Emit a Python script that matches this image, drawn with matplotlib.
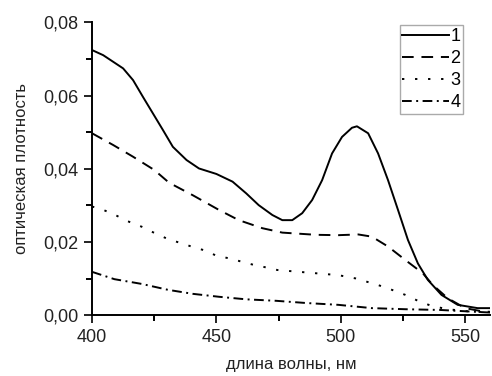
import numpy as np
import matplotlib.pyplot as plt
from matplotlib.ticker import MultipleLocator, FuncFormatter

plt.rcParams['font.family'] = ['Liberation Sans', 'DejaVu Sans']

# curve 1 (solid)
x1 = [400, 404.5, 408.5, 412.5, 416.5, 420.5, 424.5, 428.5, 432.5, 438, 443, 450,
      456.5, 462, 467, 472.5, 476.5, 480.5, 484.5, 488.5, 492.5, 496.5, 500.5, 504.5,
      506.5, 511, 515, 519, 523, 527, 531, 535, 540.5, 547, 555, 560]
y1 = [0.0724, 0.0710, 0.0692, 0.0674, 0.0642, 0.0596, 0.0551, 0.0506, 0.0460, 0.0424,
      0.0401, 0.0386, 0.0365, 0.0333, 0.0301, 0.0274, 0.0260, 0.0260, 0.0279, 0.0315,
      0.0369, 0.0442, 0.0487, 0.0512, 0.0516, 0.0497, 0.0442, 0.0369, 0.0288, 0.0206,
      0.0142, 0.0097, 0.0056, 0.0029, 0.0020, 0.0020]
# curve 2 (dashed)
x2 = [400, 408.5, 416.5, 425, 431, 440.5, 451, 459, 468.5, 476.5, 490, 499, 507,
      512.5, 519, 526, 533, 537, 543, 550, 557, 560]
y2 = [0.0497, 0.0465, 0.0433, 0.0397, 0.0362, 0.0328, 0.0288, 0.0260, 0.0238, 0.0226,
      0.0220, 0.0219, 0.0221, 0.0215, 0.0188, 0.0151, 0.0115, 0.0083, 0.0047, 0.0020,
      0.0011, 0.0010]
# curve 3 (dotted)
x3 = [400, 403, 408.5, 414, 420, 424.5, 430, 434.5, 440, 445.5, 450, 455, 460, 465,
      470, 474.5, 485, 499, 506, 515, 520.5, 526, 531, 536.5, 543, 553, 560]
y3 = [0.0297, 0.0292, 0.0277, 0.0258, 0.0242, 0.0227, 0.0210, 0.0200, 0.0188, 0.0177,
      0.0163, 0.0156, 0.0147, 0.0138, 0.0131, 0.0124, 0.0118, 0.0110, 0.0101, 0.0083,
      0.0070, 0.0056, 0.0040, 0.0026, 0.0017, 0.0010, 0.0009]
# curve 4 (dash-dot)
x4 = [400, 409, 420, 430.5, 440.5, 451, 462, 474, 486, 499, 512.5, 526, 540, 557, 560]
y4 = [0.0119, 0.0099, 0.0086, 0.0070, 0.0059, 0.0051, 0.0044, 0.0040, 0.0034, 0.0029,
      0.0020, 0.0017, 0.0015, 0.0009, 0.0008]

labels = ['1', '2', '3', '4']

fig = plt.figure(figsize=(4.92, 3.76), dpi=100)
ax = fig.add_axes([0.187, 0.161, 0.809, 0.780])

lw = 1.4
kw = dict(color='black', lw=lw, solid_joinstyle='round', dash_joinstyle='round')
ax.plot(x1, y1, ls='-', label=labels[0], **kw)
ax.plot(x2, y2, ls=(0, (6, 4)), label=labels[1], **kw)
ax.plot(x3, y3, ls=(0, (1.2, 5.5)), label=labels[2], **kw)
ax.plot(x4, y4, ls=(0, (5, 2.3, 1, 2.3)), label=labels[3], **kw)

ax.set_xlim(400, 560)
ax.set_ylim(0, 0.08)
ax.spines['top'].set_visible(False)
ax.spines['right'].set_visible(False)
for s in ('left', 'bottom'):
    ax.spines[s].set_linewidth(1.4)

ax.xaxis.set_major_locator(MultipleLocator(50))
ax.xaxis.set_minor_locator(MultipleLocator(25))
ax.yaxis.set_major_locator(MultipleLocator(0.02))
ax.yaxis.set_minor_locator(MultipleLocator(0.01))
ax.yaxis.set_major_formatter(FuncFormatter(lambda v, p: f'{v:.2f}'.replace('.', ',')))
ax.tick_params(which='major', direction='out', length=6, width=1.4, labelsize=13,
               colors='#222222', pad=4)
ax.tick_params(which='minor', direction='out', length=4, width=1.4)

ax.set_xlabel('длина волны, нм', fontsize=12, labelpad=8, color='#222222')
ax.set_ylabel('оптическая плотность', fontsize=12, labelpad=10, color='#222222')

leg = ax.legend(loc='upper right', bbox_to_anchor=(0.932, 0.99), borderaxespad=0,
                fontsize=13, handlelength=2.6, handletextpad=0.05, labelspacing=0.28,
                borderpad=0.15, fancybox=False, framealpha=1)
leg.get_frame().set_edgecolor('#aaaaaa')

fig.savefig('out.png', dpi=100)
